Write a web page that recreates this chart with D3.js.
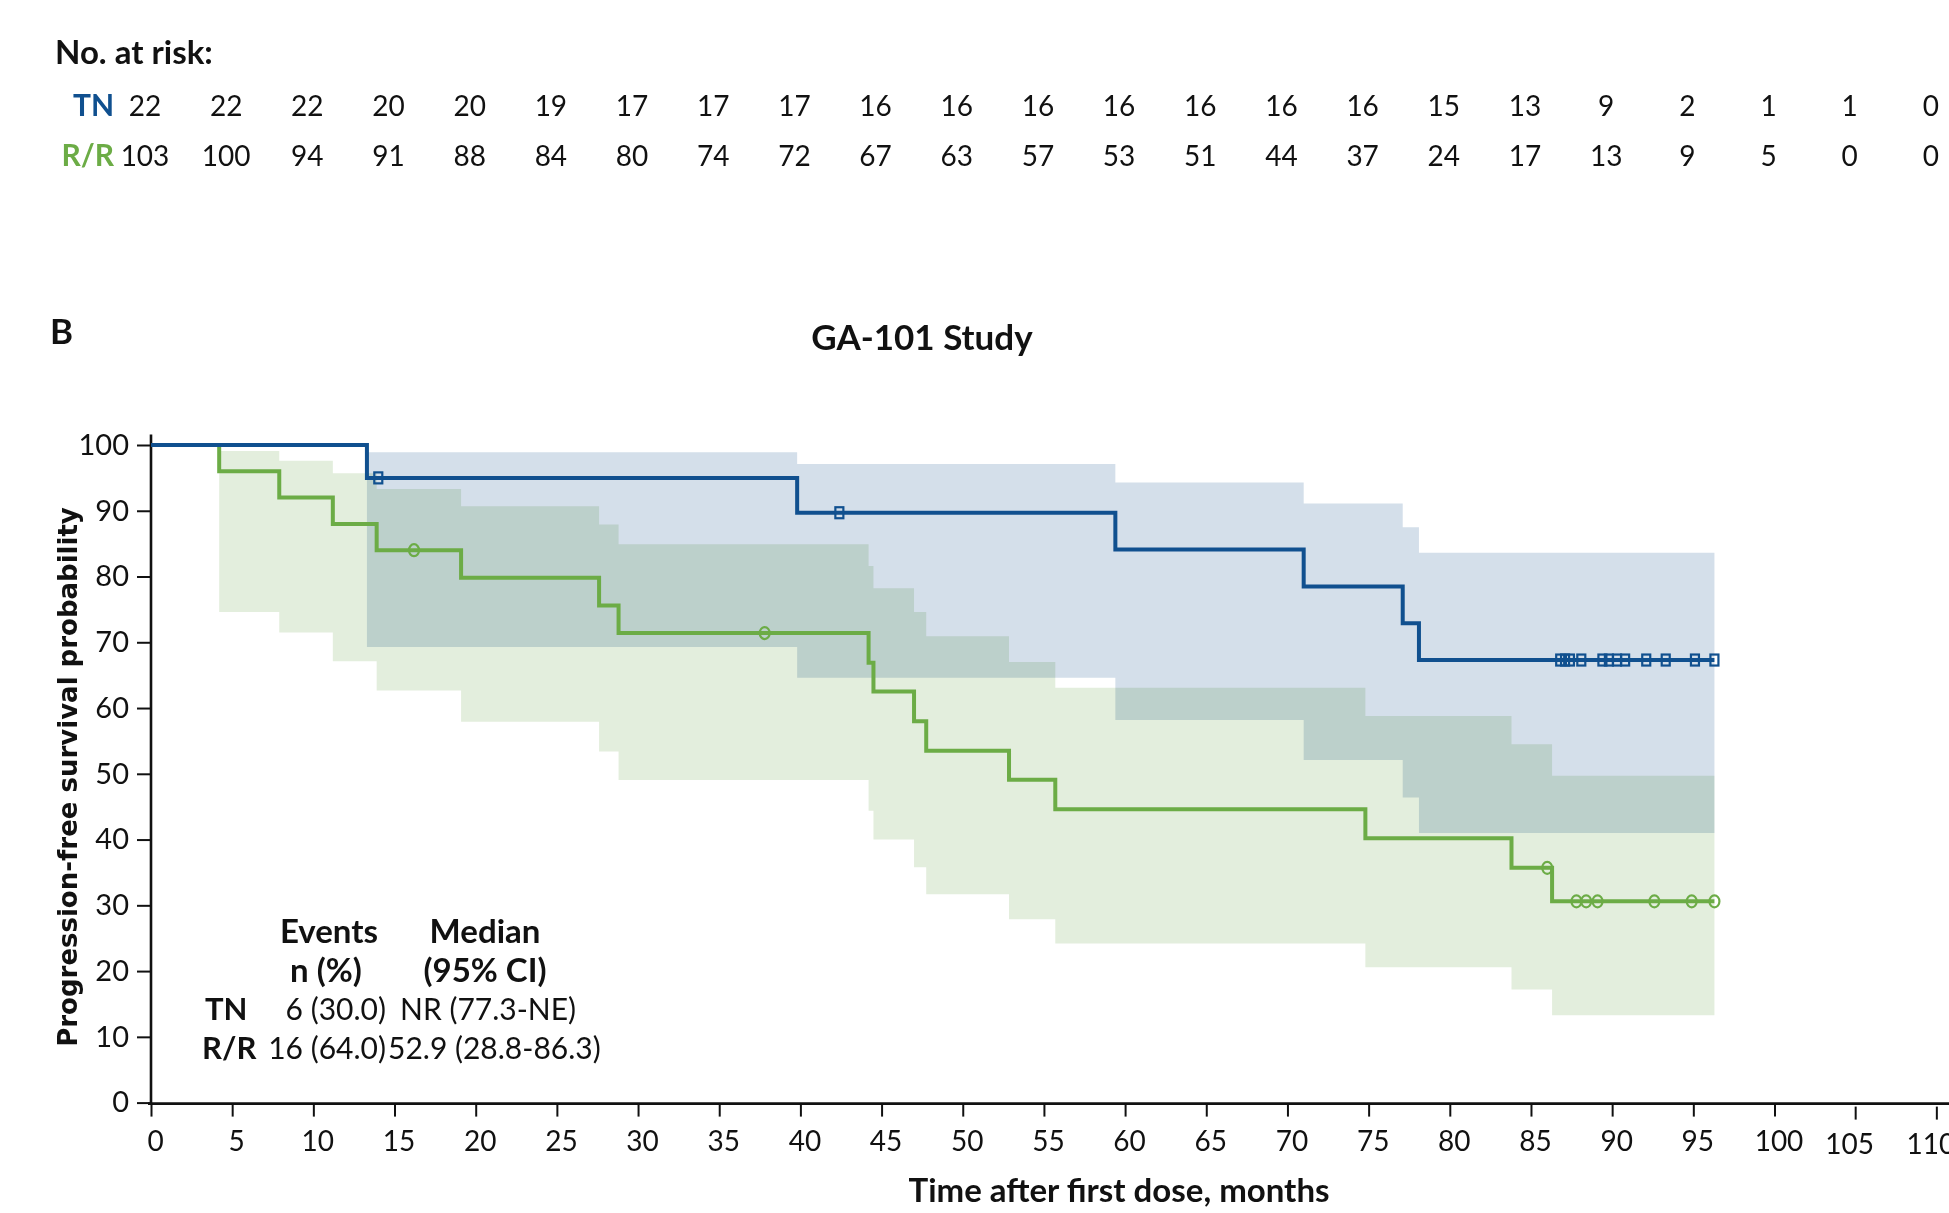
<!DOCTYPE html>
<html>
<head>
<meta charset="utf-8">
<script src="https://cdn.jsdelivr.net/npm/d3@7"></script>
<style>
  body { margin: 0; background: #fff; }
  text { font-family: Lato, "Open Sans", sans-serif; fill: #111; }
  .band { mix-blend-mode: multiply; }
</style>
</head>
<body>
<svg id="chart" width="1949" height="1213"></svg>
<script>
// number at risk, every 5 months
const riskTimes = d3.range(0, 111, 5);
const riskTN = [22, 22, 22, 20, 20, 19, 17, 17, 17, 16, 16, 16, 16, 16, 16, 16, 15, 13, 9, 2, 1, 1, 0];
const riskRR = [103, 100, 94, 91, 88, 84, 80, 74, 72, 67, 63, 57, 53, 51, 44, 37, 24, 17, 13, 9, 5, 0, 0];

// TN Kaplan-Meier step curve (time in months, survival %)
const tnTimes = [0, 13.3, 39.8, 59.4, 71.0, 77.1, 78.1];
const tnSurv = [100, 95.0, 89.7, 84.1, 78.5, 72.9, 67.3];
const tnUpper = [100, 98.9, 97.1, 94.3, 91.1, 87.5, 83.6];
const tnLower = [100, 69.3, 64.6, 58.2, 52.1, 46.4, 41.0];
const tnCensorT = [14.0, 42.4, 86.8, 87.1, 87.4, 88.1, 89.4, 89.8, 90.3, 90.8, 92.1, 93.3, 95.1, 96.3];
const tnCensorS = [95.0, 89.7, 67.3, 67.3, 67.3, 67.3, 67.3, 67.3, 67.3, 67.3, 67.3, 67.3, 67.3, 67.3];

// R/R Kaplan-Meier step curve
const rrTimes = [0, 4.2, 7.9, 11.2, 13.9, 19.1, 27.6, 28.8, 44.2, 44.5, 47.0, 47.75, 52.85, 55.7, 74.8, 83.8, 86.3];
const rrSurv = [100, 96, 92, 88, 84, 79.8, 75.6, 71.4, 66.9, 62.5, 58.0, 53.5, 49.1, 44.6, 40.2, 35.7, 30.6];
const rrUpper = [100, 99.1, 97.6, 95.7, 93.3, 90.7, 87.9, 84.9, 81.6, 78.2, 74.6, 70.9, 67.0, 63.1, 58.8, 54.5, 49.7];
const rrLower = [100, 74.6, 71.5, 67.1, 62.65, 57.9, 53.4, 49.05, 44.4, 40.0, 35.8, 31.7, 27.9, 24.2, 20.6, 17.2, 13.3];
const rrCensorT = [16.2, 37.8, 86.0, 87.8, 88.4, 89.1, 92.6, 94.9, 96.3];
const rrCensorS = [84, 71.4, 35.7, 30.6, 30.6, 30.6, 30.6, 30.6, 30.6];

const endTime = 96.3;

const xTicks = d3.range(0, 111, 5);
const yTicks = d3.range(0, 101, 10);

const blue = '#10508f';
const green = '#6cac46';

const W = 1949;
const svg = d3.select('#chart');

const x = d3.scaleLinear().domain([0, 110]).range([151, 151 + 16.235 * 110]);
const y = d3.scaleLinear().domain([0, 100]).range([1102.6, 445]);

// step points, with a closing point at the last follow-up time
const toPts = (times, vals, lo, hi) => {
  const pts = times.map((t, i) => ({ t, s: vals[i], lo: lo[i], hi: hi[i] }));
  const last = pts[pts.length - 1];
  pts.push({ t: endTime, s: last.s, lo: last.lo, hi: last.hi });
  return pts;
};

const tnPts = toPts(tnTimes, tnSurv, tnLower, tnUpper);
const rrPts = toPts(rrTimes, rrSurv, rrLower, rrUpper);

const area = d3.area()
  .x((d) => x(d.t))
  .y0((d) => y(d.lo))
  .y1((d) => y(d.hi))
  .curve(d3.curveStepAfter);

// CI bands (the first 100% segment has no band)
svg.append('path').attr('class', 'band')
  .attr('d', area(rrPts.slice(1)))
  .attr('fill', '#e3eedd');
svg.append('path').attr('class', 'band')
  .attr('d', area(tnPts.slice(1)))
  .attr('fill', '#d4dfea');

// axes
const xAxis = d3.axisBottom(x).tickValues(xTicks).tickSize(13).tickPadding(15).tickSizeOuter(0);
const gx = svg.append('g').attr('transform', `translate(0,${y(0) + 1})`).call(xAxis);
gx.select('.domain').attr('d', `M${x(0) - 3},0H${W}`).attr('stroke', '#111').attr('stroke-width', 2.6);
gx.selectAll('.tick line').attr('stroke', '#111').attr('stroke-width', 2);
gx.selectAll('.tick text').attr('font-size', 28).attr('dx', 4).attr('fill', '#111');
// the last two ticks sit a little lower in the original
const lateTicks = gx.selectAll('.tick').filter((d) => d > 100)
  .attr('transform', (d) => `translate(${x(d)},3)`);
lateTicks.select('text').attr('dx', -6);

const yAxis = d3.axisLeft(y).tickValues(yTicks).tickSize(14).tickPadding(8).tickSizeOuter(0);
const gy = svg.append('g').attr('transform', `translate(${x(0)},0)`).call(yAxis);
gy.select('.domain').attr('d', `M0,${y(0) + 2}V${y(101.6)}`).attr('stroke', '#111').attr('stroke-width', 2.6);
gy.selectAll('.tick line').attr('stroke', '#111').attr('stroke-width', 2);
gy.selectAll('.tick text').attr('font-size', 29).attr('fill', '#111');

// curves
const line = d3.line().x((d) => x(d.t)).y((d) => y(d.s)).curve(d3.curveStepAfter);
svg.append('path').attr('d', line(rrPts)).attr('fill', 'none')
  .attr('stroke', green).attr('stroke-width', 4);
svg.append('path').attr('d', line(tnPts)).attr('fill', 'none')
  .attr('stroke', blue).attr('stroke-width', 4);

// censor marks
svg.selectAll('.tn-censor')
  .data(tnCensorT.map((t, i) => ({ t, s: tnCensorS[i] })))
  .join('rect')
  .attr('class', 'tn-censor')
  .attr('x', (d) => x(d.t) - 4)
  .attr('y', (d) => y(d.s) - 5.5)
  .attr('width', 8)
  .attr('height', 11)
  .attr('fill', 'none')
  .attr('stroke', blue)
  .attr('stroke-width', 2.2);

svg.selectAll('.rr-censor')
  .data(rrCensorT.map((t, i) => ({ t, s: rrCensorS[i] })))
  .join('ellipse')
  .attr('class', 'rr-censor')
  .attr('cx', (d) => x(d.t))
  .attr('cy', (d) => y(d.s))
  .attr('rx', 5)
  .attr('ry', 6)
  .attr('fill', 'none')
  .attr('stroke', green)
  .attr('stroke-width', 2.2);

// titles
svg.append('text').attr('x', 50).attr('y', 344)
  .attr('font-size', 35).attr('font-weight', 'bold').text('B');
svg.append('text').attr('x', 922).attr('y', 350).attr('text-anchor', 'middle')
  .attr('font-size', 35).attr('font-weight', 'bold').text('GA-101 Study');
svg.append('text').attr('x', 1119).attr('y', 1202).attr('text-anchor', 'middle')
  .attr('font-size', 33).attr('font-weight', 'bold').text('Time after first dose, months');
svg.append('text')
  .attr('transform', 'translate(68,777) rotate(-90)')
  .attr('text-anchor', 'middle').attr('dominant-baseline', 'central')
  .style('font-family', '"DejaVu Sans", sans-serif')
  .attr('font-size', 26).attr('font-weight', 'bold')
  .text('Progression-free survival probability');

// number at risk table
svg.append('text').attr('x', 55).attr('y', 64)
  .attr('font-size', 33).attr('font-weight', 'bold').text('No. at risk:');
const riskRows = [
  { label: 'TN', color: blue, vals: riskTN, yy: 116 },
  { label: 'R/R', color: green, vals: riskRR, yy: 166 },
];
riskRows.forEach((row) => {
  svg.append('text').attr('x', 114).attr('y', row.yy).attr('text-anchor', 'end')
    .attr('font-size', 30).attr('font-weight', 'bold').style('fill', row.color).text(row.label);
  svg.selectAll(null).data(row.vals).join('text')
    .attr('x', (d, i) => x(riskTimes[i]) - 6)
    .attr('y', row.yy)
    .attr('text-anchor', 'middle')
    .attr('font-size', 28)
    .text((d) => d);
});

// events / median legend
const leg = svg.append('g').attr('font-size', 30);
const bold = 33;
leg.append('text').attr('x', 329).attr('y', 943).attr('text-anchor', 'middle').attr('font-size', bold).attr('font-weight', 'bold').text('Events');
leg.append('text').attr('x', 485).attr('y', 943).attr('text-anchor', 'middle').attr('font-size', bold).attr('font-weight', 'bold').text('Median');
leg.append('text').attr('x', 326).attr('y', 982).attr('text-anchor', 'middle').attr('font-size', bold).attr('font-weight', 'bold').text('n (%)');
leg.append('text').attr('x', 485).attr('y', 982).attr('text-anchor', 'middle').attr('font-size', bold).attr('font-weight', 'bold').text('(95% CI)');
leg.append('text').attr('x', 205).attr('y', 1020).attr('font-size', 31).attr('font-weight', 'bold').text('TN');
leg.append('text').attr('x', 386).attr('y', 1020).attr('text-anchor', 'end').text('6 (30.0)');
leg.append('text').attr('x', 400).attr('y', 1020).text('NR (77.3-NE)');
leg.append('text').attr('x', 202).attr('y', 1059).attr('font-size', 31).attr('font-weight', 'bold').text('R/R');
leg.append('text').attr('x', 386).attr('y', 1059).attr('text-anchor', 'end').text('16 (64.0)');
leg.append('text').attr('x', 388).attr('y', 1059).text('52.9 (28.8-86.3)');
</script>
</body>
</html>
